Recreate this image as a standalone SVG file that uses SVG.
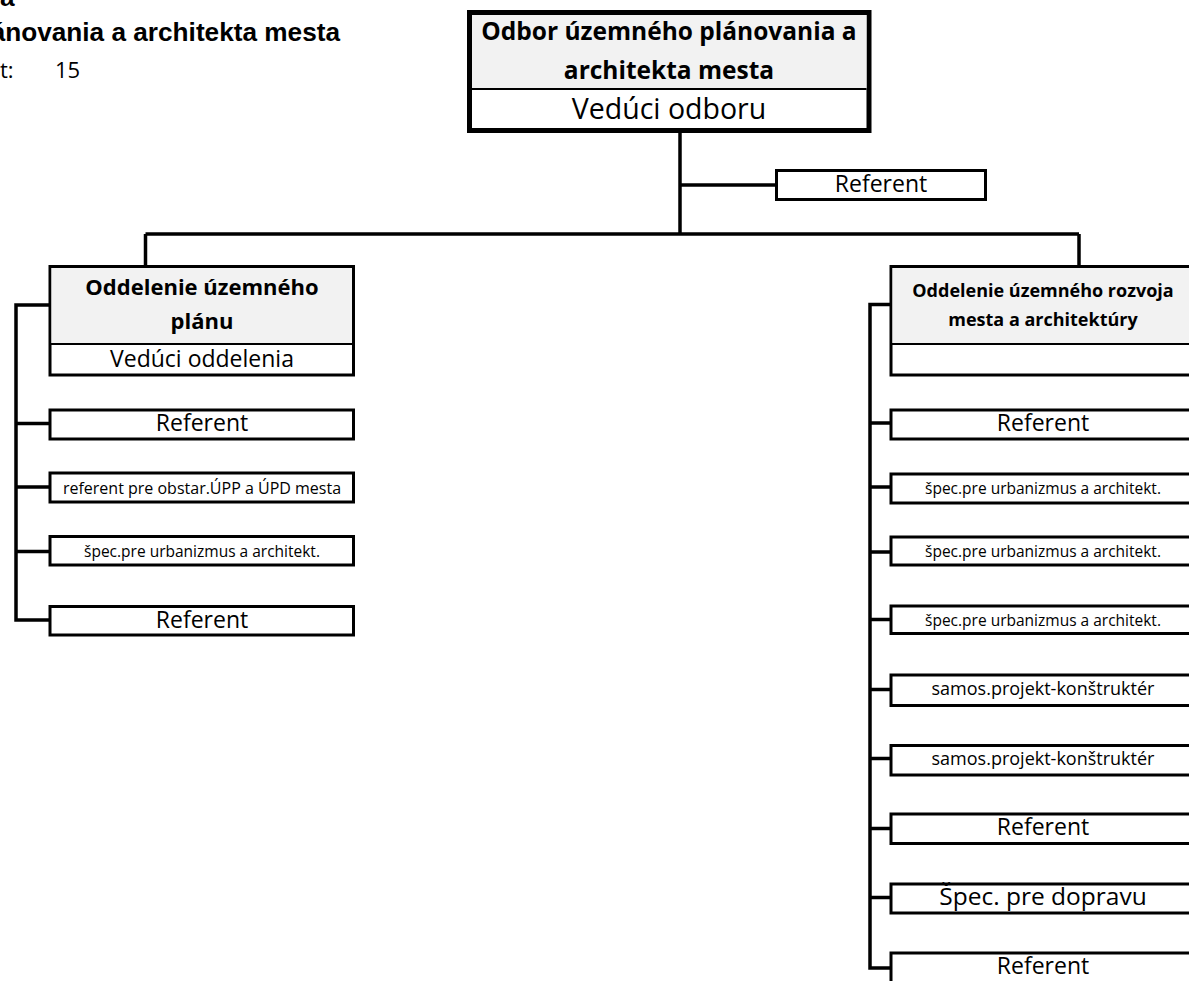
<svg xmlns="http://www.w3.org/2000/svg" width="1189" height="981" viewBox="0 0 1189 981">
<style>
.box{fill:#fff;stroke:#000;stroke-width:3}
.hdr{fill:#f2f2f2;stroke:none}
.div{stroke:#000;stroke-width:2}
.con{fill:none;stroke:#000;stroke-width:3.5}
text{font-family:"Open Sans","Noto Sans",sans-serif;fill:#000;text-anchor:middle}
.b{font-weight:bold}
.big{font-size:23px}
.sm{font-size:15.5px}
.sm2{font-size:16px}
.md{font-size:18px}
.hl{font-family:"Liberation Sans",Arial,sans-serif;font-weight:bold;font-size:26.2px}
</style>
<rect width="1189" height="981" fill="#fff"/>
<g id="title">
<text class="hl" x="0" y="6" style="text-anchor:start">a</text>
<text class="hl" x="340" y="41" style="text-anchor:end">ánovania a architekta mesta</text>
<text x="0" y="78" style="text-anchor:start;font-size:22px">t:</text>
<text x="55" y="78" style="text-anchor:start;font-size:22px">15</text>
</g>
<g id="connectors">
<path class="con" d="M680,131 V234"/>
<path class="con" d="M680,185 H776"/>
<path class="con" d="M145.5,234 H1079"/>
<path class="con" d="M145.5,234 V266"/>
<path class="con" d="M1079,234 V266"/>
<path class="con" d="M50,305 H16 V620 H50 M16,423.5 H50 M16,487 H50 M16,551.5 H50"/>
<path class="con" d="M891,304.5 H870 V968 H891 M870,423 H891 M870,487 H891 M870,552 H891 M870,619.5 H891 M870,689.5 H891 M870,758.5 H891 M870,828.5 H891 M870,897.5 H891"/>
</g>
<g id="odbor">
<rect x="469.5" y="12.5" width="399.5" height="118" fill="#fff" stroke="#000" stroke-width="5"/>
<rect class="hdr" x="472" y="15" width="394.5" height="73.5"/>
<line class="div" x1="472" y1="89" x2="866.5" y2="89"/>
<text class="b" style="font-size:24.5px" x="669" y="40">Odbor územného plánovania a</text>
<text class="b" style="font-size:24.5px" x="669" y="79">architekta mesta</text>
<text style="font-size:28.5px" x="669" y="119">Vedúci odboru</text>
</g>
<g id="referent-top">
<rect class="box" x="776.5" y="170.5" width="209" height="29"/>
<text class="big" x="881" y="192">Referent</text>
</g>
<g id="odd-uzemneho-planu">
<rect class="box" x="50" y="266.5" width="303.5" height="108.5"/>
<rect class="hdr" x="51.5" y="268" width="300.5" height="75"/>
<line class="div" x1="50" y1="344" x2="353.5" y2="344"/>
<text class="b" style="font-size:22px" x="202" y="295">Oddelenie územného</text>
<text class="b" style="font-size:22px" x="202" y="329">plánu</text>
<text class="big" x="202" y="367">Vedúci oddelenia</text>
</g>
<g id="l1"><rect class="box" x="50" y="410" width="303.5" height="29"/><text class="big" x="202" y="431">Referent</text></g>
<g id="l2"><rect class="box" x="50" y="473" width="303.5" height="29"/><text class="sm2" x="202" y="493.5">referent pre obstar.ÚPP a ÚPD mesta</text></g>
<g id="l3"><rect class="box" x="50" y="536.5" width="303.5" height="28.5"/><text class="sm" x="202" y="556.5">špec.pre urbanizmus a architekt.</text></g>
<g id="l4"><rect class="box" x="50" y="606.5" width="303.5" height="28.5"/><text class="big" x="202" y="628">Referent</text></g>
<g id="odd-rozvoja">
<rect class="box" x="891" y="266.5" width="304" height="108.5"/>
<rect class="hdr" x="892.5" y="268" width="301" height="75"/>
<line class="div" x1="891" y1="344" x2="1195" y2="344"/>
<text class="b md" x="1043" y="297">Oddelenie územného rozvoja</text>
<text class="b md" x="1043" y="326">mesta a architektúry</text>
</g>
<g id="r1"><rect class="box" x="891" y="410" width="304" height="29"/><text class="big" x="1043" y="431">Referent</text></g>
<g id="r2"><rect class="box" x="891" y="474" width="304" height="29"/><text class="sm" x="1043" y="494">špec.pre urbanizmus a architekt.</text></g>
<g id="r3"><rect class="box" x="891" y="537" width="304" height="28"/><text class="sm" x="1043" y="557">špec.pre urbanizmus a architekt.</text></g>
<g id="r4"><rect class="box" x="891" y="606" width="304" height="27.5"/><text class="sm" x="1043" y="625.5">špec.pre urbanizmus a architekt.</text></g>
<g id="r5"><rect class="box" x="891" y="675" width="304" height="30.5"/><text class="md" x="1043" y="695">samos.projekt-konštruktér</text></g>
<g id="r6"><rect class="box" x="891" y="745.5" width="304" height="29.5"/><text class="md" x="1043" y="765">samos.projekt-konštruktér</text></g>
<g id="r7"><rect class="box" x="891" y="814" width="304" height="29.5"/><text class="big" x="1043" y="835">Referent</text></g>
<g id="r8"><rect class="box" x="891" y="884" width="304" height="29"/><text style="font-size:24.5px" x="1043" y="905">Špec. pre dopravu</text></g>
<g id="r9"><rect class="box" x="891" y="953" width="304" height="35"/><text class="big" x="1043" y="974">Referent</text></g>
</svg>
